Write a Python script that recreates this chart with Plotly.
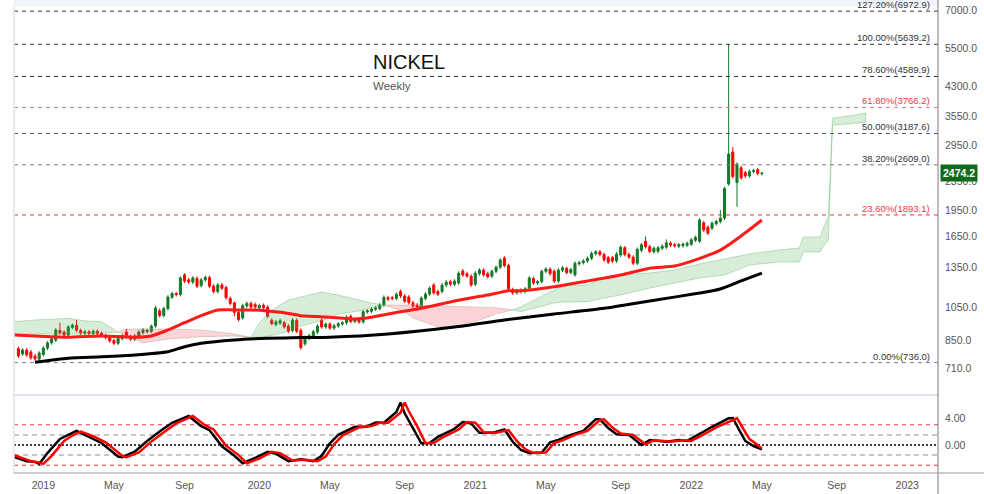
import numpy as np
import pandas as pd
import plotly.graph_objects as go
from plotly.subplots import make_subplots

# ---------------- data (weekly bars starting week of 2018-11-26) ----------------
O = [805,778,798,788,768,752,775,808,835,850,
     905,895,878,922,935,905,888,897,886,900,
     888,876,866,848,833,858,895,868,855,873,
     893,898,900,930,1025,995,1040,1118,1145,1138,
     1290,1250,1232,1262,1205,1250,1268,1200,1160,1210,
     1190,1110,1078,1015,980,1058,1075,1068,1045,1062,
     1050,965,940,948,950,930,905,965,905,830,
     860,872,895,965,925,942,918,930,942,950,
     990,958,968,955,1018,1022,1035,1040,1064,1115,
     1115,1110,1160,1127,1120,1080,1064,1050,1110,1141,
     1209,1160,1160,1209,1235,1215,1225,1322,1300,1280,
     1215,1300,1330,1300,1280,1320,1355,1437,1370,1175,
     1150,1170,1160,1185,1260,1225,1235,1320,1338,1320,
     1240,1330,1345,1310,1290,1385,1395,1410,1435,1478,
     1495,1470,1440,1440,1410,1465,1535,1470,1445,1390,
     1510,1600,1545,1495,1500,1530,1540,1580,1565,1550,
     1555,1560,1570,1610,1600,1800,1750,1740,1790,1815,
     1855,2307,2830,2330,2560,2480,2430,2500,2530,2466]
H = [815,808,808,798,778,792,818,845,868,918,
     950,905,935,946,967,915,907,906,910,910,
     898,886,876,858,870,885,913,878,883,905,
     918,915,940,1060,1040,1052,1133,1158,1158,1280,
     1305,1265,1280,1277,1265,1285,1283,1215,1225,1225,
     1204,1124,1090,1028,1073,1088,1088,1081,1073,1075,
     1063,977,967,974,962,941,979,977,916,876,
     886,908,941,977,953,953,943,955,961,997,
     1002,979,980,1032,1037,1050,1057,1077,1132,1128,
     1128,1154,1175,1141,1134,1093,1077,1126,1155,1199,
     1225,1174,1224,1248,1250,1255,1321,1340,1316,1295,
     1321,1347,1346,1316,1336,1371,1436,1455,1387,1189,
     1179,1184,1194,1280,1275,1250,1336,1356,1354,1336,
     1347,1366,1361,1351,1407,1412,1427,1452,1498,1513,
     1513,1488,1457,1457,1493,1559,1553,1488,1462,1538,
     1584,1650,1564,1548,1553,1569,1620,1599,1584,1584,
     1589,1597,1634,1660,1855,1822,1771,1817,1837,1955,
     2267,5639.2,2925,2652,2591,2510,2530,2545,2560,2485]
L = [759,769,764,750,745,740,766,798,825,840,
     879,867,867,911,894,879,877,875,875,874,
     867,854,836,823,823,848,857,845,845,863,
     882,887,889,919,983,983,1027,1105,1124,1124,
     1225,1217,1217,1186,1190,1235,1186,1146,1146,1171,
     1102,1062,990,958,968,1045,1037,1037,1032,1032,
     978,934,929,937,914,889,894,889,800,820,
     850,862,884,914,914,907,907,919,931,939,
     947,947,944,944,1006,1010,1023,1028,1051,1092,
     1097,1097,1113,1077,1067,1044,1037,1037,1097,1127,
     1136,1126,1146,1194,1200,1200,1210,1275,1265,1194,
     1200,1284,1275,1260,1265,1304,1339,1354,1166,1136,
     1136,1146,1146,1171,1210,1210,1220,1304,1284,1225,
     1225,1314,1294,1294,1275,1368,1378,1393,1418,1460,
     1452,1403,1383,1393,1393,1447,1452,1428,1373,1373,
     1492,1526,1482,1477,1482,1512,1521,1541,1536,1531,
     1536,1541,1551,1591,1581,1699,1665,1719,1768,1793,
     1833,2280,2390,1993,2371,2400,2400,2470,2440,2436]
C = [768,798,773,759,754,783,808,835,857,907,
     890,878,925,936,905,890,897,886,900,885,
     878,864,846,833,860,875,867,855,873,895,
     907,905,930,1044,995,1040,1120,1145,1138,1265,
     1240,1232,1265,1200,1250,1270,1200,1160,1210,1185,
     1115,1075,1015,970,1060,1075,1050,1050,1060,1045,
     990,945,955,962,925,900,967,900,810,865,
     875,897,930,925,942,918,932,944,950,985,
     958,967,955,1020,1025,1037,1044,1064,1118,1105,
     1110,1140,1127,1090,1080,1057,1050,1113,1141,1185,
     1150,1140,1209,1233,1215,1240,1305,1290,1280,1209,
     1305,1331,1290,1275,1320,1355,1419,1370,1180,1150,
     1165,1160,1180,1265,1225,1235,1320,1340,1300,1240,
     1331,1350,1310,1335,1390,1395,1410,1435,1480,1495,
     1470,1420,1400,1410,1475,1540,1470,1445,1390,1520,
     1565,1545,1500,1530,1535,1550,1585,1560,1555,1565,
     1570,1578,1615,1640,1833,1720,1685,1795,1815,1855,
     2240,2796,2420,2620,2400,2430,2500,2515,2470,2474.2]

# moving averages (week index, value)
ma_red_week = [-1, 4, 12, 20, 28, 32, 36, 40, 44, 48, 52, 56, 60, 64, 68, 72, 75, 81, 85, 89,
               97, 105, 113, 118, 121, 129, 137, 145, 152, 158, 163, 169, 174, 179]
ma_red = [878, 873, 866, 873, 866, 873, 907, 950, 994, 1031, 1031, 1031, 1024, 1013, 994, 988, 984, 973, 984, 1005,
          1042, 1092, 1134, 1166, 1166, 1196, 1241, 1289, 1346, 1365, 1420, 1512, 1655, 1833]
ma_black_week = [4, 12, 20, 28, 36, 40, 44, 52, 60, 68, 75, 89, 105, 117, 129, 141, 152, 164, 169, 174, 179]
ma_black = [738, 757, 764, 773, 789, 815, 833, 851, 860, 864, 866, 884, 924, 967, 1005, 1042, 1092, 1149, 1179, 1241, 1305]

# ichimoku-style cloud
cloud_week = [-1, 4, 12, 16, 20, 22, 24, 26, 30, 36, 44, 52, 56, 58, 61, 65, 68, 73, 77, 82, 85, 88,
              93, 95, 101, 106, 111, 115, 119, 121, 129, 131, 137, 141, 145, 152, 158, 164, 170, 176,
              183, 188, 189, 193, 194, 195, 196, 200, 204]
span_a = [956, 967, 977, 962, 956, 926, 895, 873, 835, 856, 869, 873, 865, 948, 1031, 1099, 1120, 1156, 1134, 1099, 1078, 1064,
          1020, 979, 926, 930, 967, 1005, 1031, 1053, 1171, 1202, 1209, 1265, 1289, 1306, 1331, 1383, 1428, 1475,
          1512, 1532, 1644, 1644, 1765, 1873, 3520, 3566, 3634]
span_b = [884, 884, 884, 884, 890, 890, 895, 913, 913, 913, 907, 884, 865, 866, 875, 900, 930, 962, 1005, 1024, 1044, 1064,
          1064, 1064, 1060, 1058, 1050, 1046, 1031, 1020, 1078, 1085, 1087, 1113, 1134, 1186, 1225, 1265, 1289, 1374,
          1401, 1401, 1494, 1494, 1560, 1613, 3365, 3387, 3430]

# fibonacci retracement levels
fib_pct = ["0.00%", "23.60%", "38.20%", "50.00%", "61.80%", "78.60%", "100.00%", "127.20%"]
fib_val = [736.0, 1893.1, 2609.0, 3187.6, 3766.2, 4589.9, 5639.2, 6972.9]
fib_col = ["#787b86", "#e53935", "#787b86", "#555555", "#f77c80", "#333333", "#333333", "#333333"]
fib_txt = ["#333333", "#f23645", "#333333", "#333333", "#f23645", "#333333", "#333333", "#333333"]

# oscillator
osc_week = [-1, 2, 4, 5, 7, 10, 12, 14, 17, 20, 24, 25, 28, 31, 34, 37, 41, 44, 46, 49,
            52, 54, 57, 60, 62, 65, 68, 71, 73, 75, 77, 81, 84, 86, 88, 90, 91, 92, 93, 95,
            97, 99, 101, 105, 107, 109, 111, 114, 117, 119, 121, 123, 126, 128, 130, 133, 136, 139, 140, 142,
            144, 147, 150, 152, 156, 159, 161, 165, 167, 171, 172, 174, 175, 177, 179]
osc_black = [-1.8, -2.4, -2.5, -2.8, -1.2, 0.9, 1.5, 2.1, 1.2, 0.3, -1.7, -1.8, -1.0, 0.6, 2.0, 3.3, 4.3, 2.8, 2.2, -0.2,
             -1.6, -2.7, -1.9, -1.0, -1.3, -2.4, -2.1, -2.4, -1.6, 0.25, 1.5, 2.7, 2.75, 3.35, 3.3, 4.4, 4.9, 6.3, 4.7, 2.5,
             0.25, 0.3, 1.2, 2.4, 3.4, 3.2, 1.8, 1.8, 2.3, 0.5, -0.74, -1.2, -1.1, 0.4, 0.74, 1.5, 2.1, 3.8, 3.8, 2.5,
             1.6, 1.5, 0.0, 0.74, 0.5, 0.74, 0.6, 2.0, 2.7, 3.95, 4.0, 1.7, 0.6, -0.15, -0.65]
osc_red_week = [-1, 3, 5, 6, 8, 11, 13, 15, 18, 21, 25, 26, 29, 32, 35, 38, 42, 45, 47, 50,
                53, 55, 58, 61, 63, 66, 69, 72, 74, 76, 78, 82, 85, 87, 89, 91, 92, 93, 94, 96,
                98, 100, 102, 106, 108, 110, 112, 115, 118, 120, 122, 124, 127, 129, 131, 134, 137, 140, 141, 143,
                145, 148, 151, 153, 157, 160, 162, 166, 168, 172, 173, 175, 176, 178, 179]
osc_red = [-1.5, -2.4, -2.6, -2.8, -1.6, 0.6, 1.4, 2.0, 1.3, 0.4, -1.6, -1.8, -1.1, 0.5, 1.9, 3.2, 4.3, 2.9, 2.3, -0.1,
           -1.5, -2.7, -2.0, -1.0, -1.2, -2.3, -2.2, -2.4, -1.7, 0.1, 1.4, 2.6, 2.8, 3.3, 3.3, 4.3, 4.8, 6.3, 5.0, 2.8,
           0.3, 0.3, 1.1, 2.3, 3.4, 3.3, 1.9, 1.8, 2.2, 0.6, -0.6, -1.2, -1.1, 0.3, 0.7, 1.5, 2.1, 3.7, 3.8, 2.6,
           1.7, 1.5, 0.1, 0.7, 0.5, 0.7, 0.6, 1.9, 2.6, 3.7, 4.0, 1.9, 0.9, 0.0, -0.5]
osc_levels = [3, 1.5, 0, -1.5, -3]

price_ticks = [710, 850, 1050, 1350, 1650, 1950, 2350, 2950, 3550, 4300, 5500, 7000]
osc_ticks = [0, 4]
time_tick_week = [6, 23, 40, 58, 75, 93, 110, 127, 145, 162, 179, 197, 214]
time_tick_text = ["2019", "May", "Sep", "2020", "May", "Sep", "2021", "May", "Sep", "2022", "May", "Sep", "2023"]

# ---------------- helpers ----------------
base = pd.Timestamp("2018-11-26")
def wk(idx):
    return [base + pd.Timedelta(days=7 * float(i)) for i in idx]

dates = wk(range(len(C)))
x0, x1 = wk([-1.06])[0], wk([221.4])[0]

fig = make_subplots(rows=2, cols=1, shared_xaxes=True, vertical_spacing=0)

# cloud polygons split at crossings
cd = wk(cloud_week)
cuts = [0] + [k for k in range(1, len(cloud_week) - 1) if span_a[k] == span_b[k]] + [len(cloud_week) - 1]
for s, e in zip(cuts[:-1], cuts[1:]):
    seg = range(s, e + 1)
    green = sum(span_a[k] - span_b[k] for k in seg) > 0
    xs = [cd[k] for k in seg] + [cd[k] for k in reversed(seg)]
    ys = [span_a[k] for k in seg] + [span_b[k] for k in reversed(seg)]
    fig.add_trace(go.Scatter(x=xs, y=ys, fill="toself", mode="lines",
                             fillcolor="rgba(76,175,80,0.22)" if green else "rgba(242,54,69,0.22)",
                             line=dict(color="rgba(76,175,80,0.35)" if green else "rgba(190,160,140,0.45)", width=1),
                             hoverinfo="skip", showlegend=False), row=1, col=1)

# fib lines
for v, c in zip(fib_val, fib_col):
    fig.add_trace(go.Scatter(x=[x0, x1], y=[v, v], mode="lines",
                             line=dict(color=c, width=1, dash="4px,4px"),
                             hoverinfo="skip", showlegend=False), row=1, col=1)

# moving averages
fig.add_trace(go.Scatter(x=wk(ma_black_week), y=ma_black, mode="lines",
                         line=dict(color="#000000", width=3, shape="spline", smoothing=0.6),
                         showlegend=False), row=1, col=1)
fig.add_trace(go.Scatter(x=wk(ma_red_week), y=ma_red, mode="lines",
                         line=dict(color="#ff1a1a", width=3, shape="spline", smoothing=0.6),
                         showlegend=False), row=1, col=1)

# candles
fig.add_trace(go.Candlestick(x=dates, open=O, high=H, low=L, close=C,
                             increasing=dict(line=dict(color="#137a28", width=1), fillcolor="#137a28"),
                             decreasing=dict(line=dict(color="#ff0000", width=1), fillcolor="#ff0000"),
                             whiskerwidth=0, showlegend=False), row=1, col=1)

# oscillator
for v in osc_levels:
    if v == 0:
        ln = dict(color="#000000", width=1.5, dash="2px,2px")
    elif abs(v) == 3:
        ln = dict(color="#f23645", width=1, dash="4px,4px")
    else:
        ln = dict(color="#b2b5be", width=1.5, dash="5px,4px")
    fig.add_trace(go.Scatter(x=[x0, x1], y=[v, v], mode="lines", line=ln,
                             hoverinfo="skip", showlegend=False), row=2, col=1)
fig.add_trace(go.Scatter(x=wk(osc_week), y=osc_black, mode="lines",
                         line=dict(color="#000000", width=2.5), showlegend=False), row=2, col=1)
fig.add_trace(go.Scatter(x=wk(osc_red_week), y=osc_red, mode="lines",
                         line=dict(color="#ff0000", width=2.5), showlegend=False), row=2, col=1)

# ---------------- layout ----------------
W, Hh = 984, 494
ml, mr, mt, mb = 14, 46, 6, 21
ph = Hh - mt - mb
pw = W - ml - mr
split = 78 / ph

axfont = dict(family="Liberation Sans, Arial, sans-serif", size=10.5, color="#555555")
fig.update_layout(
    width=W, height=Hh, margin=dict(l=ml, r=mr, t=mt, b=mb, autoexpand=False),
    paper_bgcolor="white", plot_bgcolor="white",
    showlegend=False,
    xaxis=dict(range=[x0, x1], showgrid=False, showticklabels=False, zeroline=False, automargin=False,
               rangeslider=dict(visible=False), showline=False),
    xaxis2=dict(range=[x0, x1], showgrid=False, zeroline=False, showline=False, automargin=False,
                tickvals=wk(time_tick_week), ticktext=time_tick_text, ticks="",
                tickfont=axfont, ticklabelstandoff=4, rangeslider=dict(visible=False)),
    yaxis=dict(type="log", domain=[split, 1], range=[2.7770, 3.8576], side="right", automargin=False,
               showgrid=False, zeroline=False, showline=False,
               tickvals=price_ticks, ticktext=[f"{v:.1f}" for v in price_ticks],
               ticks="", tickfont=axfont, ticklabelstandoff=6),
    yaxis2=dict(domain=[0, split], range=[-4.15, 7.41], side="right", automargin=False,
                showgrid=False, zeroline=False, showline=False,
                tickvals=osc_ticks, ticktext=[f"{v:.2f}" for v in osc_ticks],
                ticks="", tickfont=axfont, ticklabelstandoff=6),
)

shapes = [
    dict(type="rect", xref="paper", yref="paper", x0=0, x1=1, y0=1, y1=1 + mt / ph,
         fillcolor="#f0f3fa", line=dict(width=0), layer="below"),
    dict(type="line", xref="paper", yref="paper", x0=0, x1=0, y0=0, y1=1,
         line=dict(color="#e0e3eb", width=1.5)),
    dict(type="line", xref="paper", yref="paper", x0=0, x1=1, y0=split, y1=split,
         line=dict(color="#e0e3eb", width=2)),
    dict(type="line", xref="paper", yref="paper", x0=1, x1=1, y0=-mb / ph, y1=1 + mt / ph,
         line=dict(color="#787b86", width=1)),
    dict(type="line", xref="paper", yref="paper", x0=0, x1=1 + mr / pw, y0=0, y1=0,
         line=dict(color="#9598a1", width=1)),
]
fig.update_layout(shapes=shapes)

ann = []
for p, v, tc in zip(fib_pct, fib_val, fib_txt):
    ann.append(dict(xref="paper", yref="y", x=(932 - ml) / pw, y=np.log10(v),
                    xanchor="right", yanchor="bottom", showarrow=False, yshift=-1,
                    text=f"{p}({v:.1f})", font=dict(family="Liberation Sans, Arial, sans-serif", size=9.5, color=tc)))
ann.append(dict(xref="paper", yref="paper", x=(371 - ml) / pw, y=(Hh - mb - 62) / ph,
                xanchor="left", yanchor="middle", showarrow=False, text="NICKEL",
                font=dict(family="Liberation Sans, Arial, sans-serif", size=20, color="#111111")))
ann.append(dict(xref="paper", yref="paper", x=(371 - ml) / pw, y=(Hh - mb - 86) / ph,
                xanchor="left", yanchor="middle", showarrow=False, text="Weekly",
                font=dict(family="Liberation Sans, Arial, sans-serif", size=11.5, color="#555555")))
ann.append(dict(xref="paper", yref="y", x=(959 - ml) / pw, y=np.log10(C[-1]),
                xanchor="center", yanchor="middle", showarrow=False, text=f"<b>{C[-1]:.1f}</b>",
                bgcolor="#0f6a1c", borderpad=2,
                font=dict(family="Liberation Sans, Arial, sans-serif", size=10.5, color="#ffffff")))
fig.update_layout(annotations=ann)

fig.write_html("out.html", config={"displayModeBar": False},
               post_script="document.body.style.margin='0';document.body.style.overflow='hidden';")
